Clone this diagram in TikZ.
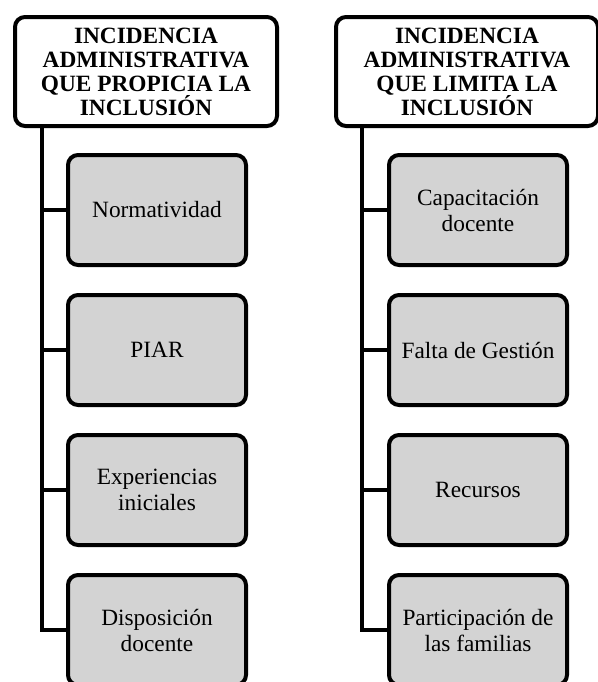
\documentclass[tikz,border=0pt]{standalone}
\usepackage{fontspec}
\setmainfont{Liberation Serif}
\usetikzlibrary{positioning}
\definecolor{boxgray}{RGB}{211,211,211}
\tikzset{
  head/.style={draw,rounded corners=7.5pt,fill=white,minimum width=196.5pt,minimum height=81.75pt,
    align=center,inner sep=0pt,font=\fontsize{17.5}{18}\selectfont\bfseries},
  item/.style={draw,rounded corners=7.5pt,fill=boxgray,minimum width=133.5pt,minimum height=82.5pt,
    align=center,inner sep=0pt,font=\fontsize{17.5}{19.5}\selectfont}}

\begin{document}
\begin{tikzpicture}[x=0.75pt,y=-0.75pt,line width=3pt]
  \useasboundingbox (0,0) rectangle (597,682);
  \def\xleft{157}
  \def\xright{478}

  % left column
  \node[head] (hl) at (146,71.5) {INCIDENCIA\\ADMINISTRATIVA\\QUE PROPICIA LA\\INCLUSIÓN};
  \node[item] (l1) at (\xleft,210) {Normatividad};
  \node[item] (l2) at (\xleft,350) {PIAR};
  \node[item] (l3) at (\xleft,490) {Experiencias\\iniciales};
  \node[item] (l4) at (\xleft,630) {Disposición\\docente};

  % right column
  \node[head] (hr) at (467,71.5) {INCIDENCIA\\ADMINISTRATIVA\\QUE LIMITA LA\\INCLUSIÓN};
  \node[item] (r1) at (\xright,210) {Capacitación\\docente};
  \node[item] (r2) at (\xright,350) {Falta de Gestión};
  \node[item] (r3) at (\xright,490) {Recursos};
  \node[item] (r4) at (\xright,630) {Participación de\\las familias};

  % trunks
  \coordinate (tl) at (42,126);
  \coordinate (tr) at (362,126);
  \draw (tl) |- (l4.west);
  \draw (tl |- l1.west) -- (l1.west);
  \draw (tl |- l2.west) -- (l2.west);
  \draw (tl |- l3.west) -- (l3.west);
  \draw (tr) |- (r4.west);
  \draw (tr |- r1.west) -- (r1.west);
  \draw (tr |- r2.west) -- (r2.west);
  \draw (tr |- r3.west) -- (r3.west);
\end{tikzpicture}
\end{document}
